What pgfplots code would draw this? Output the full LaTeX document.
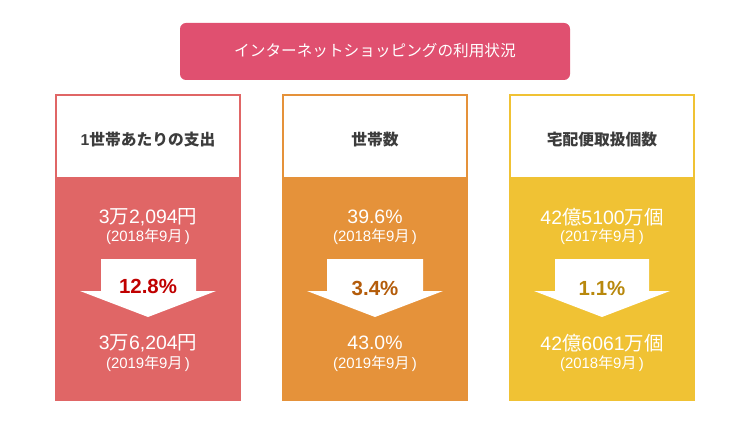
\documentclass[border=0pt]{standalone}
\usepackage{fontspec}
\setmainfont{Liberation Sans}
\newfontfamily\cjk{Noto Sans CJK JP}
\usepackage{pgfplots}
\pgfplotsset{compat=1.18}
\definecolor{titlec}{RGB}{224,80,112}
\definecolor{pa}{RGB}{224,102,102}
\definecolor{pb}{RGB}{229,146,58}
\definecolor{pc}{RGB}{240,194,52}
\definecolor{pcta}{RGB}{192,0,0}
\definecolor{pctb}{RGB}{180,92,10}
\definecolor{pctc}{RGB}{184,136,12}
\definecolor{hdr}{RGB}{60,60,60}
\newcommand{\bigv}{\fontsize{19.5}{20}\selectfont}
\newcommand{\pctf}{\fontsize{20.5}{21}\selectfont\bfseries}
\newcommand{\sml}{\fontsize{15}{16}\selectfont}
\newcommand{\hd}{\fontsize{15.8}{16}\selectfont\bfseries}
\begin{document}
\begin{tikzpicture}
\begin{axis}[hide axis, scale only axis, width=750bp, height=422bp,
  xmin=0, xmax=750, ymin=0, ymax=422, clip=false]
% background
\addplot[fill=white, draw=none] coordinates {(0,0)(750,0)(750,422)(0,422)} -- cycle;
% title box
\addplot[fill=titlec, draw=none, rounded corners=6bp] coordinates {(180,342)(570,342)(570,399)(180,399)} -- cycle;
\node[text=white, font=\cjk\fontsize{15.7}{16}\selectfont] at (axis cs:375,371) {インターネットショッピングの利用状況};
% panel 1
\addplot[fill=white, draw=pa, line width=2bp] coordinates {(56,22)(240,22)(240,327)(56,327)} -- cycle;
\addplot[fill=pa, draw=none] coordinates {(56,22)(240,22)(240,245)(56,245)} -- cycle;
\addplot[fill=white, draw=none] coordinates {(101,163)(196,163)(196,131)(216,131)(148,105)(80,131)(101,131)} -- cycle;
% panel 2
\addplot[fill=white, draw=pb, line width=2bp] coordinates {(283,22)(467,22)(467,327)(283,327)} -- cycle;
\addplot[fill=pb, draw=none] coordinates {(283,22)(467,22)(467,245)(283,245)} -- cycle;
\addplot[fill=white, draw=none] coordinates {(327,163)(423,163)(423,131)(443,131)(375,105)(307,131)(327,131)} -- cycle;
% panel 3
\addplot[fill=white, draw=pc, line width=2bp] coordinates {(510,22)(694,22)(694,327)(510,327)} -- cycle;
\addplot[fill=pc, draw=none] coordinates {(510,22)(694,22)(694,245)(510,245)} -- cycle;
\addplot[fill=white, draw=none] coordinates {(555,163)(649,163)(649,131)(670,131)(602,105)(534,131)(555,131)} -- cycle;
% headers
\node[text=hdr, font=\hd] at (axis cs:148,282) {1{\cjk 世帯あたりの支出}};
\node[text=hdr, font=\hd\cjk] at (axis cs:375,282) {世帯数};
\node[text=hdr, font=\hd\cjk] at (axis cs:602,282) {宅配便取扱個数};
% values panel 1
\node[text=white, font=\bigv] at (axis cs:148,205) {3{\cjk 万}2,094{\cjk 円}};
\node[text=white, font=\sml] at (axis cs:148,185) {(2018{\cjk 年}9{\cjk 月}\,)};
\node[text=pcta, font=\pctf] at (axis cs:148,136) {12.8\%};
\node[text=white, font=\bigv] at (axis cs:148,79) {3{\cjk 万}6,204{\cjk 円}};
\node[text=white, font=\sml] at (axis cs:148,58) {(2019{\cjk 年}9{\cjk 月}\,)};
% values panel 2
\node[text=white, font=\bigv] at (axis cs:375,205) {39.6\%};
\node[text=white, font=\sml] at (axis cs:375,185) {(2018{\cjk 年}9{\cjk 月}\,)};
\node[text=pctb, font=\pctf] at (axis cs:375,134) {3.4\%};
\node[text=white, font=\bigv] at (axis cs:375,79) {43.0\%};
\node[text=white, font=\sml] at (axis cs:375,58) {(2019{\cjk 年}9{\cjk 月}\,)};
% values panel 3
\node[text=white, font=\bigv] at (axis cs:602,205) {42{\cjk 億}5100{\cjk 万個}};
\node[text=white, font=\sml] at (axis cs:602,185) {(2017{\cjk 年}9{\cjk 月}\,)};
\node[text=pctc, font=\pctf] at (axis cs:602,134) {1.1\%};
\node[text=white, font=\bigv] at (axis cs:602,79) {42{\cjk 億}6061{\cjk 万個}};
\node[text=white, font=\sml] at (axis cs:602,58) {(2018{\cjk 年}9{\cjk 月}\,)};
\end{axis}
\end{tikzpicture}
\end{document}
